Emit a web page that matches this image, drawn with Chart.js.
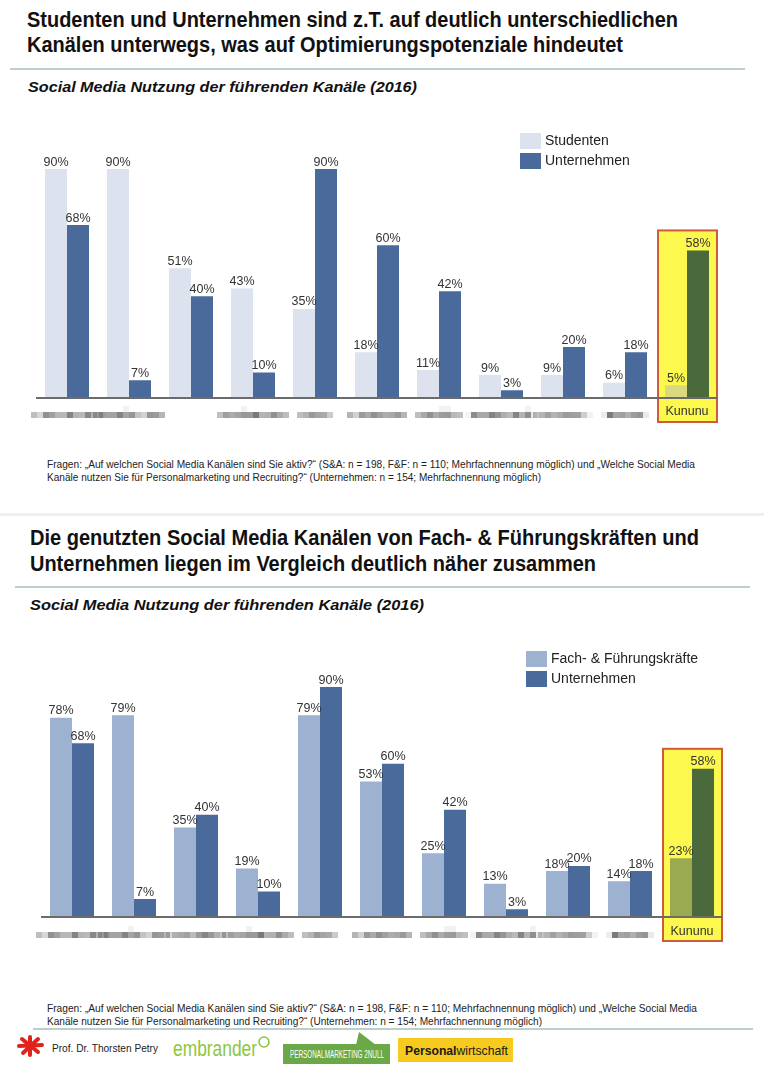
<!DOCTYPE html>
<html><head><meta charset="utf-8">
<script src="https://cdn.jsdelivr.net/npm/chart.js@4"></script>
<style>
html,body{margin:0;padding:0;background:#fff;}
#page{position:relative;width:764px;height:1080px;overflow:hidden;font-family:"Liberation Sans",Arial,sans-serif;color:#1a1a1a;}
.t{position:absolute;white-space:nowrap;transform-origin:0 0;}
canvas{position:absolute;}
.rule{position:absolute;height:2px;background:#bccfcb;}
</style></head><body><div id="page">
<canvas id="c1" width="764" height="340" style="left:0;top:100px"></canvas>
<canvas id="c2" width="764" height="330" style="left:0;top:620px"></canvas>
<div class="rule" style="left:10px;top:68px;width:735px"></div>
<div class="rule" style="left:0;top:513px;width:764px;height:3px;background:#efefef"></div>
<div class="rule" style="left:15px;top:586px;width:735px"></div>
<div class="rule" style="left:33px;top:1028px;width:720px"></div>
<svg style="position:absolute;left:14px;top:1034px" width="34" height="30">
 <g stroke="#e3231b" stroke-width="4" stroke-linecap="round">
  <line x1="5" y1="12" x2="28" y2="11"/><line x1="16" y1="3" x2="16" y2="21"/>
  <line x1="8" y1="5" x2="24" y2="18"/><line x1="9" y1="19" x2="24" y2="5"/>
 </g>
</svg>
<svg style="position:absolute;left:250px;top:1030px" width="160" height="40">
 <circle cx="14" cy="12" r="5" fill="none" stroke="#8dc63f" stroke-width="1.6"/>
 <polygon points="33,14 140,14 140,34 33,34" fill="#6aa946"/>
 <polygon points="106,15 109,2 126,15" fill="#6aa946"/>
</svg>
<div style="position:absolute;left:398px;top:1038px;width:115px;height:24px;background:#f6ca1f"></div>
</div>
<script>
// ---------- data ----------
const categories = ['Facebook','WhatsApp','YouTube','Instagram','XING','LinkedIn','Twitter','Snapchat','Google+','Blogs','Kununu'];
const topCategoryLabels = ['Facebook','WhatsApp','','Instagram','XING','LinkedIn','Twitter','Snapchat','Google+','Blogs','Kununu'];
const studenten      = [90, 90, 51, 43, 35, 18, 11,  9,  9,  6,  5];
const unternehmen    = [68,  7, 40, 10, 90, 60, 42,  3, 20, 18, 58];
const fachFuehrung   = [78, 79, 35, 19, 79, 53, 25, 13, 18, 14, 23];
const seriesTop    = ['Studenten','Unternehmen'];
const seriesBottom = ['Fach- & Führungskräfte','Unternehmen'];
const highlight = 'Kununu';

// ---------- text ----------
const page = document.getElementById('page');
function line(html, x, base, size, width, css) {
  const d = document.createElement('div');
  d.className = 't';
  d.style.fontSize = size + 'px';
  d.style.lineHeight = size + 'px';
  d.style.left = x + 'px';
  d.style.top = (base - size / 2 - 0.3465 * size) + 'px';
  if (css) Object.assign(d.style, css);
  d.innerHTML = html;
  page.appendChild(d);
  const nat = d.getBoundingClientRect().width;
  if (width) d.style.transform = 'scaleX(' + (width / nat) + ')';
  return d;
}
const B = {fontWeight:'bold', color:'#111'};
const SI = {fontWeight:'bold', fontStyle:'italic', color:'#111'};
const FN = {color:'#222'};
line('Studenten und Unternehmen sind z.T. auf deutlich unterschiedlichen', 27, 28, 22, 651, B);
line('Kanälen unterwegs, was auf Optimierungspotenziale hindeutet', 27, 53, 22, 596, B);
line('Social Media Nutzung der führenden Kanäle (2016)', 28, 92, 14, 389, SI);
const fn1 = 'Fragen: „Auf welchen Social Media Kanälen sind Sie aktiv?“ (S&amp;A: n = 198, F&amp;F: n = 110; Mehrfachnennung möglich) und „Welche Social Media';
const fn2 = 'Kanäle nutzen Sie für Personalmarketing und Recruiting?“ (Unternehmen: n = 154; Mehrfachnennung möglich)';
line(fn1, 47, 468, 11, 648, FN);
line(fn2, 47, 481, 11, 494, FN);
line('Die genutzten Social Media Kanälen von Fach- &amp; Führungskräften und', 30, 546, 22, 669, B);
line('Unternehmen liegen im Vergleich deutlich näher zusammen', 30, 572, 22, 566, B);
line('Social Media Nutzung der führenden Kanäle (2016)', 30, 610, 14, 394, SI);
line(fn1, 47, 1012, 11, 650, FN);
line(fn2, 47, 1025, 11, 495, FN);
line('Prof. Dr. Thorsten Petry', 52, 1052, 11, 106, {color:'#222'});
line('embrander', 173, 1057, 22, 84, {color:'#8dc63f'});
line('PERSONALMARKETING 2NULL', 290, 1058, 11, 94, {color:'#fff'});
line('<b>Personal</b>wirtschaft', 405, 1055, 13, 103, {color:'#1a1a1a'});

// ---------- chart plugin ----------
const decor = {
  id: 'decor',
  beforeDatasetsDraw(chart, args, o) {
    const ctx = chart.ctx, xs = chart.scales.x, ys = chart.scales.y;
    const hi = chart.data.labels.indexOf(o.highlight);
    const cw = xs.width / chart.data.labels.length;
    const cx = xs.getPixelForValue(hi);
    const maxV = Math.max(...chart.data.datasets.map(d => d.data[hi]));
    const top = ys.getPixelForValue(maxV) - 20;
    const bottom = ys.getPixelForValue(0) + 24;
    ctx.save();
    ctx.fillStyle = '#fcf84e';
    ctx.fillRect(cx - cw / 2 + 2, top, cw - 3, bottom - top);
    ctx.strokeStyle = '#cf5b3c';
    ctx.lineWidth = 2;
    ctx.strokeRect(cx - cw / 2 + 2, top, cw - 3, bottom - top);
    ctx.restore();
  },
  afterDatasetsDraw(chart, args, o) {
    const ctx = chart.ctx, xs = chart.scales.x, ys = chart.scales.y;
    const y0 = ys.getPixelForValue(0);
    ctx.save();
    // baseline
    ctx.strokeStyle = '#6b6b6b';
    ctx.lineWidth = 2;
    ctx.beginPath(); ctx.moveTo(xs.left, y0); ctx.lineTo(xs.right, y0); ctx.stroke();
    // value labels
    ctx.font = '12.5px "Liberation Sans", Arial';
    ctx.textAlign = 'center';
    ctx.textBaseline = 'alphabetic';
    ctx.fillStyle = '#333';
    chart.data.datasets.forEach((ds, di) => {
      chart.getDatasetMeta(di).data.forEach((el, i) => {
        ctx.fillText(ds.data[i] + '%', el.x, el.y - 3.5);
      });
    });
    // category labels (pixelated like the reference, except the highlighted one)
    const hi = chart.data.labels.indexOf(o.highlight);
    o.axisLabels.forEach((lab, i) => {
      const cx = xs.getPixelForValue(i);
      const ly = y0 + o.labelDy;
      if (i === hi) {
        ctx.fillStyle = '#333';
        ctx.font = '12.5px "Liberation Sans", Arial';
        ctx.textBaseline = 'middle';
        ctx.textAlign = 'center';
        ctx.fillText(lab, cx, ly);
        return;
      }
      if (!lab) return;
      const f = 6, w = 84, h = 24;
      const oc = document.createElement('canvas');
      oc.width = Math.ceil(w / f); oc.height = Math.ceil(h / f);
      const c2 = oc.getContext('2d');
      c2.scale(1 / f, 1 / f);
      c2.font = 'bold 14px "Liberation Sans", Arial';
      c2.fillStyle = '#222';
      c2.textAlign = 'center';
      c2.textBaseline = 'middle';
      c2.fillText(lab, w / 2, h / 2);
      ctx.imageSmoothingEnabled = false;
      ctx.globalAlpha = 0.85;
      ctx.drawImage(oc, Math.round(cx - w / 2), Math.round(ly - h / 2), oc.width * f, oc.height * f);
      ctx.globalAlpha = 1;
    });
    // legend
    ctx.font = '14px "Liberation Sans", Arial';
    ctx.textAlign = 'left';
    ctx.textBaseline = 'middle';
    chart.data.datasets.forEach((ds, di) => {
      const ly = o.legendY + di * 20;
      ctx.fillStyle = ds.legendColor;
      ctx.fillRect(o.legendX, ly, 21, 16);
      ctx.fillStyle = '#222';
      ctx.fillText(ds.label, o.legendX + 25, ly + 8.5);
    });
    ctx.restore();
  }
};

function colors(base, hiColor) {
  return categories.map(c => c === highlight ? hiColor : base);
}

function makeChart(id, series, dataA, dataB, colA, hiA, padding, axisLabels, legendX, legendY, labelDy) {
  return new Chart(document.getElementById(id), {
    type: 'bar',
    data: {
      labels: categories,
      datasets: [
        {label: series[0], data: dataA, backgroundColor: colors(colA, hiA), legendColor: colA,
         categoryPercentage: 0.71, barPercentage: 1.0},
        {label: series[1], data: dataB, backgroundColor: colors('#4a6a9b', '#4b6a3b'), legendColor: '#4a6a9b',
         categoryPercentage: 0.71, barPercentage: 1.0}
      ]
    },
    options: {
      responsive: false, animation: false, devicePixelRatio: 1,
      layout: {padding: padding},
      scales: {
        x: {display: false},
        y: {display: false, min: 0, max: 100}
      },
      plugins: {
        legend: {display: false}, tooltip: {enabled: false},
        decor: {highlight: highlight, axisLabels: axisLabels, legendX: legendX, legendY: legendY, labelDy: labelDy}
      }
    },
    plugins: [decor]
  });
}

makeChart('c1', seriesTop, studenten, unternehmen, '#dce3ee', '#d9da80',
  {left: 36, right: 46, top: 43.6, bottom: 42}, topCategoryLabels, 520, 33, 14);
makeChart('c2', seriesBottom, fachFuehrung, unternehmen, '#9db1d0', '#9aab4f',
  {left: 41, right: 41, top: 41.5, bottom: 33}, categories, 526, 31, 15);
</script>
</body></html>
